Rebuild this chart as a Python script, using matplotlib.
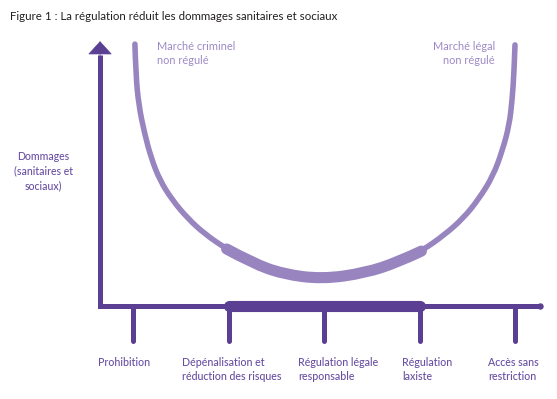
import matplotlib
matplotlib.use("Agg")
import matplotlib.pyplot as plt
from matplotlib.path import Path
from matplotlib.patches import PathPatch

# ---------------- data ----------------
categories = ["Prohibition",
              "Dépénalisation et\nréduction des risques",
              "Régulation légale\nresponsable",
              "Régulation\nlaxiste",
              "Accès sans\nrestriction"]
cat_pos = [0, 1, 2, 3, 4]
# curve: position along the regulation spectrum vs harm
curve_x = [0.02, 0.03, 0.06, 0.12, 0.19, 0.28, 0.41, 0.57, 0.75, 0.98, 1.25, 1.57,
           1.98, 2.43, 2.78, 3.02, 3.26, 3.46, 3.62, 3.77, 3.87, 3.94, 3.97, 3.99, 4.00]
curve_h = [9.92, 8.75, 7.61, 6.55, 5.61, 4.77, 4.02, 3.33, 2.73, 2.16, 1.63, 1.21,
           1.02, 1.25, 1.67, 2.08, 2.69, 3.33, 4.05, 4.92, 5.91, 6.86, 7.80, 8.86, 9.89]
zone = (1, 3)  # responsible regulation zone (thick)
title = "Figure 1 : La régulation réduit les dommages sanitaires et sociaux"
ylabel = "Dommages\n(sanitaires et\nsociaux)"
left_label = "Marché criminel\nnon régulé"
right_label = "Marché légal\nnon régulé"

# ---------------- style ----------------
W, H = 557, 399
DARK = "#5a3f92"
CURVE = "#9885c0"
TXT = "#6a50a3"
LIGHT_TXT = "#9d89c6"
FONT = ["Lato", "DejaVu Sans"]
label_left_px = [98, 182, 298, 402, 488]

fig = plt.figure(figsize=(W / 100, H / 100), dpi=100)
ax = fig.add_axes([0, 0, 1, 1])
ax.set_xlim(-133 / 95.5, (W - 133) / 95.5)
ax.set_ylim((306 - H) / 26.4, 306 / 26.4)
ax.axis("off")

x_axis_left = -0.345
x_axis_right = 4.26

# axes
ax.plot([x_axis_left, x_axis_left, x_axis_right], [9.5, 0, 0], color=DARK, lw=3.6,
        solid_joinstyle="miter", solid_capstyle="butt")
ax.plot([x_axis_right], [0], "o", color=DARK, ms=3.6)
ax.annotate("", xy=(x_axis_left, 10.03), xytext=(x_axis_left, 9.2),
            arrowprops=dict(arrowstyle="-|>,head_length=0.55,head_width=0.5",
                            color=DARK, lw=0.5, mutation_scale=16, shrinkA=0, shrinkB=0))
ax.plot(list(zone), [0, 0], color=DARK, lw=8, solid_capstyle="round")
ax.vlines(cat_pos, -1.33, 0, color=DARK, lw=3.6, capstyle="round")


def smooth_path(xs, hs):
    pts = list(zip(xs, hs))
    verts = [pts[0]]
    codes = [Path.MOVETO]
    n = len(pts)
    for i in range(1, n - 1):
        nxt = pts[i + 1] if i == n - 2 else ((pts[i][0] + pts[i + 1][0]) / 2,
                                             (pts[i][1] + pts[i + 1][1]) / 2)
        verts += [pts[i], nxt]
        codes += [Path.CURVE3, Path.CURVE3]
    return Path(verts, codes)


ax.add_patch(PathPatch(smooth_path(curve_x, curve_h), facecolor="none",
                       edgecolor=CURVE, lw=4, capstyle="round", joinstyle="round"))
sel = [i for i, x in enumerate(curve_x) if zone[0] - 0.05 <= x <= zone[1] + 0.05]
ax.add_patch(PathPatch(smooth_path([curve_x[i] for i in sel], [curve_h[i] for i in sel]),
                       facecolor="none", edgecolor=CURVE, lw=8,
                       capstyle="round", joinstyle="round"))


def ftext(px, py, s, **kw):
    fig.text(px / W, 1 - py / H, s, family=FONT, **kw)


for lab, lx in zip(categories, label_left_px):
    ftext(lx, 357, lab, ha="left", va="top", fontsize=7.7, color=TXT,
          linespacing=1.35, fontweight="medium")

ftext(10, 17, title, ha="left", va="center", fontsize=8.25, color="#231f20")
ftext(43, 171, ylabel, ha="center", va="center", fontsize=7.6, color=TXT,
      linespacing=1.42, multialignment="center", fontweight="medium")
ftext(157, 41, left_label, ha="left", va="top", fontsize=7.9, color=LIGHT_TXT,
      linespacing=1.35)
ftext(495, 41, right_label, ha="right", va="top", fontsize=7.9, color=LIGHT_TXT,
      linespacing=1.35, multialignment="right")

fig.savefig("out.png", dpi=100, facecolor="white")
